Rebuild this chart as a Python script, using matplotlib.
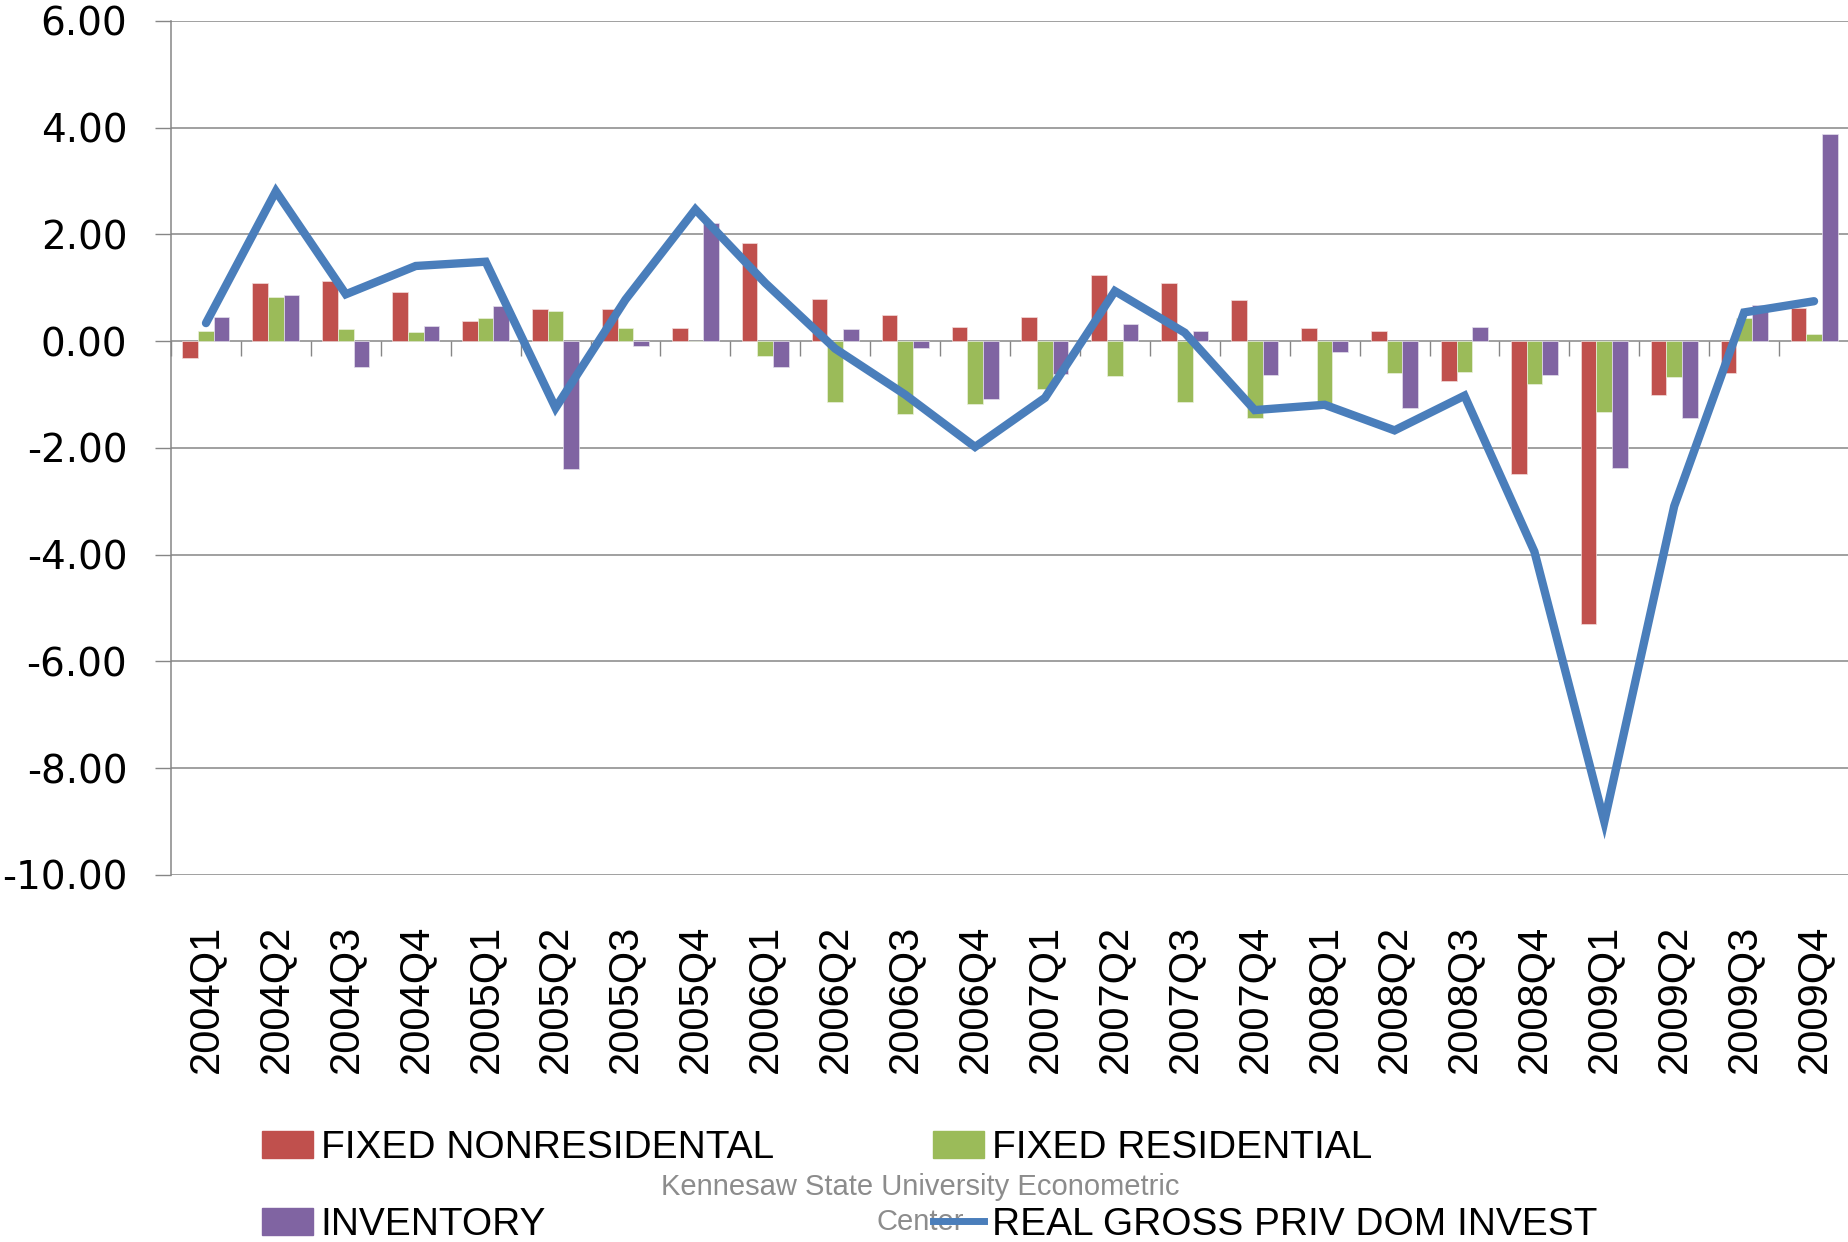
import matplotlib
matplotlib.use('Agg')
import matplotlib.pyplot as plt
from matplotlib.patches import Patch
from matplotlib.lines import Line2D
import numpy as np

quarters = ['2004Q1', '2004Q2', '2004Q3', '2004Q4', '2005Q1', '2005Q2', '2005Q3', '2005Q4',
            '2006Q1', '2006Q2', '2006Q3', '2006Q4', '2007Q1', '2007Q2', '2007Q3', '2007Q4',
            '2008Q1', '2008Q2', '2008Q3', '2008Q4', '2009Q1', '2009Q2', '2009Q3', '2009Q4']
fixed_nonres = [-0.31, 1.09, 1.12, 0.92, 0.38, 0.61, 0.61, 0.25, 1.84, 0.80, 0.49, 0.26,
                0.46, 1.25, 1.10, 0.78, 0.24, 0.19, -0.74, -2.48, -5.29, -1.01, -0.59, 0.62]
fixed_res = [0.19, 0.83, 0.23, 0.18, 0.43, 0.56, 0.25, 0.00, -0.27, -1.13, -1.36, -1.18,
             -0.89, -0.66, -1.14, -1.44, -1.17, -0.60, -0.58, -0.81, -1.33, -0.67, 0.43, 0.13]
inventory = [0.46, 0.87, -0.48, 0.29, 0.66, -2.39, -0.09, 2.21, -0.49, 0.22, -0.13, -1.08,
             -0.62, 0.32, 0.19, -0.63, -0.21, -1.26, 0.26, -0.64, -2.37, -1.43, 0.68, 3.88]
real_invest = [0.34, 2.81, 0.88, 1.41, 1.49, -1.25, 0.78, 2.47, 1.09, -0.14, -1.00, -1.98,
               -1.06, 0.94, 0.16, -1.29, -1.19, -1.67, -1.02, -3.94, -9.00, -3.09, 0.54, 0.75]
y_ticks = [6, 4, 2, 0, -2, -4, -6, -8, -10]

c_red = '#C0504D'
c_green = '#9BBB59'
c_purple = '#8064A2'
c_blue = '#4A7EBB'
c_grid = '#868686'

fig = plt.figure(figsize=(18.49, 12.42), dpi=100)
ax = fig.add_axes([0.0925, 0.2955, 0.9075, 0.6876])

x = np.arange(len(quarters))
w = 0.224
ax.bar(x - w, fixed_nonres, w, color=c_red, edgecolor='#f2dcdb', linewidth=0.5, zorder=3)
ax.bar(x, fixed_res, w, color=c_green, edgecolor='#ebf1de', linewidth=0.5, zorder=3)
ax.bar(x + w, inventory, w, color=c_purple, edgecolor='#e4dfec', linewidth=0.5, zorder=3)
ax.plot(x, real_invest, color=c_blue, lw=6, solid_capstyle='round', solid_joinstyle='miter', zorder=4)

ax.set_xlim(-0.5, len(quarters) - 0.5)
ax.set_ylim(-10, 6)
ax.set_yticks(y_ticks)
ax.set_yticklabels(['%.2f' % v for v in y_ticks], fontsize=28, family='DejaVu Sans')
ax.tick_params(axis='y', length=11.5, width=1, color=c_grid, pad=20)
ax.grid(axis='y', color=c_grid, lw=1.1, zorder=1)
ax.set_axisbelow(True)

ax.set_xticks(x)
ax.set_xticklabels(quarters, rotation=90, fontsize=30, family='Liberation Sans')
ax.tick_params(axis='x', length=0, pad=36)

for s in ['top', 'right', 'bottom']:
    ax.spines[s].set_visible(False)
ax.spines['left'].set_color(c_grid)
ax.spines['left'].set_linewidth(1.1)

# category axis sitting on the zero line, tick marks between quarters
sec = ax.secondary_xaxis(10 / 16)
sec.set_xticks(np.arange(len(quarters) + 1) - 0.5)
sec.set_xticklabels([])
sec.tick_params(axis='x', direction='out', length=11, width=1, color=c_grid)
sec.spines['bottom'].set_color(c_grid)
sec.spines['bottom'].set_linewidth(1.1)
sec.spines['top'].set_visible(False)
sec.xaxis.set_ticks_position('bottom')

handles = [Patch(color=c_red), Patch(color=c_purple), Patch(color=c_green),
           Line2D([], [], color=c_blue, lw=5)]
labels = ['FIXED NONRESIDENTAL', 'INVENTORY', 'FIXED RESIDENTIAL', 'REAL GROSS PRIV DOM INVEST']
fig.legend(handles, labels, ncol=2, loc='upper left', bbox_to_anchor=(0.1416, 0.090),
           frameon=False, borderpad=0, borderaxespad=0,
           prop={'family': 'Liberation Sans', 'size': 28},
           handlelength=1.31, handleheight=0.69, handletextpad=0.2,
           columnspacing=4.1, labelspacing=1.04)

fig.text(0.4975, 0.0302, 'Kennesaw State University Econometric\nCenter', ha='center', va='center',
         color='#8c8c8c', fontsize=21, family='Liberation Sans', linespacing=1.3)

fig.savefig('out.png', dpi=100)
